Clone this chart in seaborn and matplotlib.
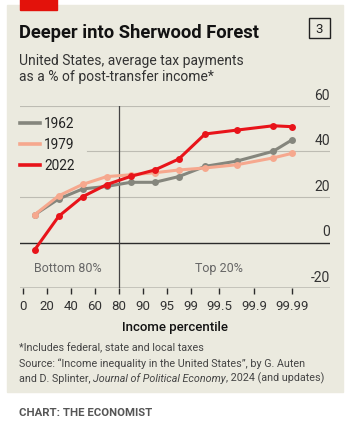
import matplotlib
matplotlib.use("Agg")
import matplotlib.pyplot as plt
from matplotlib.lines import Line2D
from matplotlib.patches import Rectangle
import seaborn as sns
import pandas as pd

# Income groups (percentile bands) and average tax payments, % of post-transfer income
groups = ["P0-20", "P20-40", "P40-60", "P60-80", "P80-90", "P90-95",
          "P95-99", "P99-99.5", "P99.5-99.9", "P99.9-99.99", "P99.99+"]
tax_1962 = [12.2, 19.1, 23.5, 24.6, 26.4, 26.4, 28.9, 33.4, 35.7, 40.0, 45.0]
tax_1979 = [12.2, 20.5, 25.5, 28.9, 29.7, 30.6, 31.8, 32.7, 34.1, 37.1, 39.1]
tax_2022 = [-3.2, 11.5, 20.1, 25.4, 29.0, 31.8, 36.6, 47.6, 49.3, 51.2, 50.8]
years = ["1962", "1979", "2022"]
tick_labels = ["0", "20", "40", "60", "80", "90", "95", "99", "99.5", "99.9", "99.99"]
y_ticks = [60, 40, 20, 0, -20]

colors = {"1962": "#85867D", "1979": "#F6A88E", "2022": "#E8141A"}

# layout: slot of each percentile tick on the (non-linear) axis
tick_slots = [0, 1, 2, 3, 4, 5, 6, 7, 8.2, 9.65, 11.22]
# each point sits mid-way between its band edges; the top band sits on its tick
point_x = [(tick_slots[i] + tick_slots[i + 1]) / 2 for i in range(len(tick_slots) - 1)]
point_x.append(tick_slots[-1])

df = pd.DataFrame({
    "group": groups * 3,
    "x": point_x * 3,
    "year": [y for y in years for _ in groups],
    "tax": tax_1962 + tax_1979 + tax_2022,
})

W, H = 355, 427
fig = plt.figure(figsize=(W / 100, H / 100), dpi=100)
fig.patch.set_facecolor("white")
FONT = "Roboto"
plt.rcParams["font.family"] = [FONT, "DejaVu Sans"]


def fx(x):
    return x / W


def fy(y):
    return 1 - y / H


# background panel and red tag
fig.patches.append(Rectangle((fx(7), fy(393)), fx(336), 387 / H,
                             transform=fig.transFigure, color="#EBEADF", zorder=-2))
fig.patches.append(Rectangle((fx(20), fy(11)), fx(37), 11 / H,
                             transform=fig.transFigure, color="#E3120B", zorder=-1))
fig.patches.append(Rectangle((fx(309), fy(39)), fx(21), 20 / H, transform=fig.transFigure,
                             facecolor="none", edgecolor="#222222", lw=1, zorder=-1))
fig.text(fx(319.5), fy(29.5), "3", ha="center", va="center", fontsize=9.5, color="#222222")

# titles
fig.text(fx(19), fy(38), "Deeper into Sherwood Forest", fontsize=13.2, fontweight="bold",
         color="#121212", va="baseline")
fig.text(fx(19), fy(64.5), "United States, average tax payments", fontsize=10,
         color="#333333", va="baseline")
fig.text(fx(19), fy(80.5), "as a % of post-transfer income*", fontsize=10,
         color="#333333", va="baseline")

# axes
ax_left, ax_right, ax_top, ax_bottom = 20, 330, 106.7, 289.1
ax = fig.add_axes([fx(ax_left), fy(ax_bottom), (ax_right - ax_left) / W,
                   (ax_bottom - ax_top) / H])
ax.set_facecolor("none")
x0 = -(22.7 - ax_left) / 24
x1 = (ax_right - 22.7) / 24
ax.set_xlim(x0, x1)
ax.set_ylim(-20, 60)
for s in ax.spines.values():
    s.set_visible(False)

# gridlines
for yv in y_ticks:
    if yv in (0, -20):
        ax.axhline(yv, color="#2b2b2b", lw=1.0, zorder=2)
    elif yv == 40:
        ax.axhline(yv, xmin=(86.7 - ax_left) / (ax_right - ax_left), color="#BDBCB3", lw=0.8, zorder=1)
    else:
        ax.axhline(yv, color="#BDBCB3", lw=0.8, zorder=1)
    ax.text(1.0, yv + 1.8, str(yv), transform=ax.get_yaxis_transform(), ha="right",
            va="bottom", fontsize=10, color="#333333")
ax.plot([tick_slots[4], tick_slots[4]], [-20, 60], color="#444444", lw=0.9, zorder=2)

sns.lineplot(data=df, x="x", y="tax", hue="year", palette=colors, hue_order=years,
             marker="o", markersize=5, markeredgewidth=0, lw=2.2, legend=False,
             sort=False, ax=ax, zorder=3)

ax.set_xticks(tick_slots)
ax.set_xticklabels(tick_labels)
ax.set_yticks([])
ax.tick_params(axis="x", direction="out", length=4.3, width=1.0, color="#2b2b2b",
               pad=3.5, labelsize=9.5, labelcolor="#333333")
ax.set_xlabel("Income percentile", fontsize=9.5, fontweight="medium", color="#121212",
              labelpad=6)
ax.set_ylabel("")

ax.text(1.87, -11, "Bottom 80%", ha="center", va="center", fontsize=9, color="#666666")
ax.text(8.18, -11, "Top 20%", ha="center", va="center", fontsize=9, color="#666666")

# legend
for i, yr in enumerate(years):
    ly = 124 + 21 * i
    fig.lines.append(Line2D([fx(20), fx(40)], [fy(ly), fy(ly)], transform=fig.transFigure,
                            color=colors[yr], lw=2.6))
    fig.text(fx(44), fy(ly), yr, va="center", fontsize=9.8, color="#222222")

# footnotes
fc = "#444444"
fs = 7.75
fig.text(fx(19), fy(351.7), "*Includes federal, state and local taxes", fontsize=fs,
         color=fc, va="baseline")
fig.text(fx(19), fy(366.7), "Source: \u201cIncome inequality in the United States\u201d, by G. Auten",
         fontsize=fs, color=fc, va="baseline")
fig.canvas.draw()
r = fig.canvas.get_renderer()
xpos = fx(19)
for piece, style in [("and D. Splinter, ", "normal"), ("Journal of Political Economy", "italic"),
                     (", 2024 (and updates)", "normal")]:
    t = fig.text(xpos, fy(381.7), piece, fontsize=fs, color=fc, va="baseline", style=style)
    bb = t.get_window_extent(renderer=r)
    xpos += bb.width / W

fig.text(fx(19), fy(415.7), "CHART: THE ECONOMIST", fontsize=8.2, fontweight="bold",
         color="#555555", va="baseline")

fig.savefig("out.png", dpi=100)
